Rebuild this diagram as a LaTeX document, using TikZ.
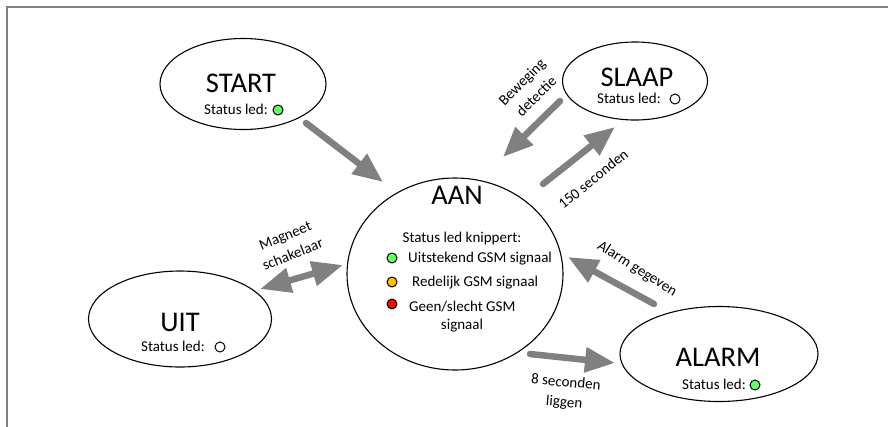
\documentclass[tikz,border=0pt]{standalone}
\usepackage{fontspec}
\setmainfont{Carlito}
\usetikzlibrary{arrows.meta,shapes.geometric}
\definecolor{framegray}{RGB}{128,128,128}
\definecolor{arrowgray}{RGB}{128,128,128}
\definecolor{ledgreen}{RGB}{102,255,102}
\definecolor{ledorange}{RGB}{255,192,0}
\definecolor{ledred}{RGB}{255,0,0}
\tikzset{
  statebox/.style={ellipse, draw=black, line width=1.1pt, inner sep=0pt},
  titletext/.style={font=\fontsize{28.5}{30}\selectfont, inner sep=0pt, text height=18.4pt, text depth=0pt},
  smalltext/.style={font=\fontsize{15}{18}\selectfont, inner sep=0pt, text height=9.7pt, text depth=0pt},
  labeltext/.style={font=\fontsize{15}{20}\selectfont, inner sep=0pt, align=center},
  led/.style={circle, draw=black, line width=1pt, minimum size=10pt, inner sep=0pt},
  bigarrow/.style={draw=arrowgray, line width=6.5pt, line cap=round,
    -{Triangle[width=24pt,length=30pt]}},
  dblarrow/.style={draw=arrowgray, line width=6.5pt,
    {Triangle[width=24pt,length=31pt]}-{Triangle[width=24pt,length=31pt]}},
}
\begin{document}
\begin{tikzpicture}[x=1pt,y=-1pt]
\useasboundingbox (0,0) rectangle (888,426);
% frame
\draw[framegray, line width=2pt] (7,427) -- (7,7) -- (889,7);

% state ellipses
\node[statebox, minimum width=166pt, minimum height=91pt] (start) at (243,84) {};
\node[statebox, minimum width=145pt, minimum height=78pt] (slaap) at (635,81) {};
\node[statebox, minimum width=216pt, minimum height=192pt] (aan) at (455,274) {};
\node[statebox, minimum width=183pt, minimum height=96pt] (uit) at (180,319) {};
\node[statebox, minimum width=198pt, minimum height=95pt] (alarm) at (719,354) {};

% START
\node[titletext] (starttitle) at (241,83) {START};
\node[smalltext] (startled) at (236,110) {Status led:};
\node[led, fill=ledgreen] (startdot) at (278,110) {};
% SLAAP
\node[titletext] (slaaptitle) at (637,77) {SLAAP};
\node[smalltext] (slaapled) at (629,99) {Status led:};
\node[led, fill=white] (slaapdot) at (675,99) {};
% UIT
\node[titletext] (uittitle) at (180,322) {UIT};
\node[smalltext] (uitled) at (173,347) {Status led:};
\node[led, fill=white] (uitdot) at (220,347) {};
% ALARM
\node[titletext] (alarmtitle) at (718,357) {ALARM};
\node[smalltext] (alarmled) at (714,385) {Status led:};
\node[led, fill=ledgreen] (alarmdot) at (755,385) {};
% AAN
\node[titletext] (aantitle) at (457,195) {AAN};
\node[smalltext] (aanled) at (462,238) {Status led knippert:};
\node[led, fill=ledgreen] (dotgreen) at (392,258) {};
\node[smalltext, anchor=west] (lgreen) at (408,258) {Uitstekend GSM signaal};
\node[led, fill=ledorange] (dotorange) at (392,282) {};
\node[smalltext, anchor=west] (lorange) at (412,282) {Redelijk GSM signaal};
\node[led, fill=ledred] (dotred) at (392,304) {};
\node[smalltext, anchor=west] (lred) at (409,307) {Geen/slecht GSM};
\node[smalltext] (lred2) at (462,325) {signaal};

% arrow end points
\coordinate (a1s) at (306,123);
\coordinate (a1e) at (383,182);
\coordinate (a2s) at (560,101);
\coordinate (a2e) at (503,157);
\coordinate (a3s) at (543,184);
\coordinate (a3e) at (615,127);
\coordinate (a4s) at (260,289);
\coordinate (a4e) at (343,265);
\coordinate (a5s) at (654,304);
\coordinate (a5e) at (568,257);
\coordinate (a6s) at (530,354);
\coordinate (a6e) at (615,363);

\draw[bigarrow] (a1s) -- (a1e);
\draw[bigarrow] (a2s) -- (a2e);
\draw[bigarrow] (a3s) -- (a3e);
\draw[dblarrow] (a4s) -- (a4e);
\draw[bigarrow] (a5s) -- (a5e);
\draw[bigarrow] (a6s) -- (a6e);

% labels
\node[labeltext, rotate=45] (lbeweging) at (529,89) {Beweging\\detectie};
\node[labeltext, rotate=39] (l150) at (593,179) {150 seconden};
\node[labeltext, rotate=22] (lmagneet) at (289,245) {Magneet\\schakelaar};
\node[labeltext, rotate=-32] (lalarm) at (637,269) {Alarm gegeven};
\node[labeltext, rotate=-5] (l8sec) at (565,393) {8 seconden\\liggen};
\end{tikzpicture}
\end{document}
